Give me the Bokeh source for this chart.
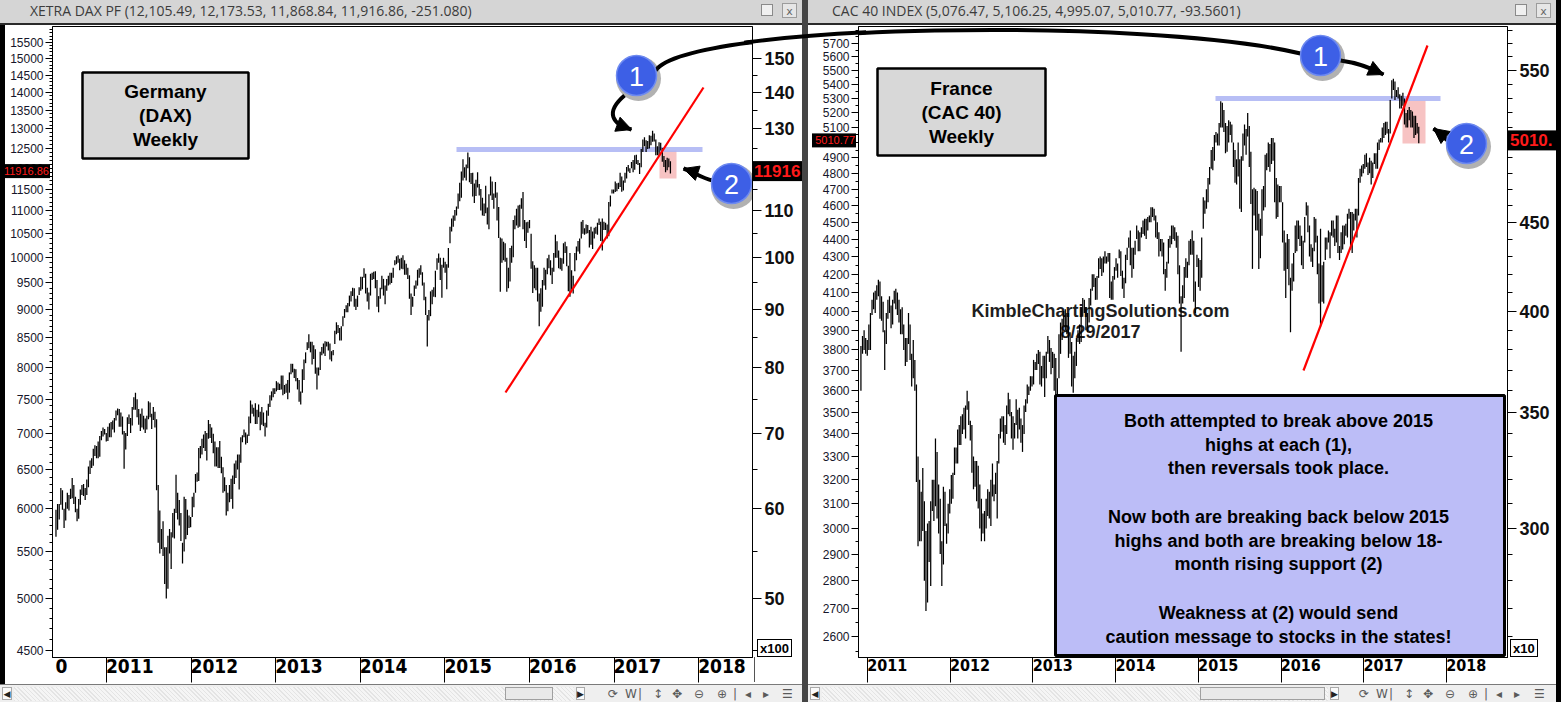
import numpy as np
import pandas as pd
from bokeh.plotting import figure
from bokeh.models import (ColumnDataSource, FixedTicker, NumeralTickFormatter,
                          CustomJSTickFormatter, LogAxis, Range1d, Arrow,
                          NormalHead, Div)
from bokeh.layouts import row, column
from bokeh.core.properties import value
from bokeh.embed import file_html
from bokeh.resources import INLINE

# ---------------------------------------------------------------- data
years = [2011, 2012, 2013, 2014, 2015, 2016, 2017, 2018]

dax_title = "XETRA DAX PF (12,105.49, 12,173.53, 11,868.84, 11,916.86, -251.080)"
cac_title = "CAC 40 INDEX (5,076.47, 5,106.25, 4,995.07, 5,010.77, -93.5601)"
dax_last = 11916.86
cac_last = 5010.77

# weekly bars (week ending Fridays)
dax_start = "2010-05-28"
dax_low = [
    5670, 5750, 5870, 6050, 5990, 5770, 5860, 6000, 5980, 6120, 6130, 6060, 5960, 5850,
    5880, 6050, 6170, 6160, 6110, 6170, 6270, 6440, 6520, 6550, 6680, 6650, 6650,
    6670, 6900, 6950, 6980, 6880,
    # 2011
    6890, 6940, 6940, 7050, 7010, 7180, 7260, 7090, 7090, 6980, 6510, 6770,
    6960, 7130, 7000, 7110, 7340, 7340, 7230, 7120, 7030, 7080, 7050, 7000, 7050,
    7200, 7230, 7060, 7190, 7080, 6230, 5600, 5480, 5530, 5450, 5150, 5000, 5100, 5480,
    5310, 5660, 5650, 5950, 5870, 5800, 5620, 5370, 5500, 5640, 5690, 5770, 5780,
    # 2012
    5900, 6020, 6200, 6340, 6350, 6650, 6700, 6790, 6750, 6620, 6920, 6930, 6860,
    6720, 6540, 6540, 6520, 6520, 6450, 6200, 6220, 5920, 5970, 6080, 6120, 6000,
    6310, 6390, 6500, 6240, 6590, 6870, 6940, 6840, 6860, 6960, 7140, 7280, 7240,
    7130, 7130, 7230, 7040, 7120, 7100, 6950, 7080, 7250, 7380, 7480, 7530, 7580,
    # 2013
    7620, 7640, 7640, 7650, 7560, 7580, 7600, 7500, 7600, 7890, 7920, 7830, 7780,
    7650, 7460, 7420, 7600, 7800, 8070, 8290, 8320, 8250, 8050, 8140, 7900, 7650,
    7870, 7960, 8200, 8230, 8190, 8350, 8280, 8130, 8100, 8200, 8390, 8560, 8580,
    8450, 8450, 8700, 8850, 8950, 8950, 9060, 9150, 9250, 9050, 8990, 9050, 9270,
    # 2014
    9350, 9380, 9600, 9300, 9150, 9000, 9260, 9560, 9580, 9400, 9050, 8950, 9200,
    9380, 9260, 9100, 9350, 9450, 9470, 9500, 9600, 9850, 9870, 9900, 9750, 9780,
    9770, 9660, 9660, 9580, 9200, 8900, 9050, 9250, 9390, 9450, 9600, 9660, 9450,
    9170, 8900, 8350, 8800, 8880, 9100, 9240, 9230, 9760, 9900, 9560, 9220, 9800,
    # 2015
    9700, 9380, 9800, 10300, 10550, 10650, 10780, 10900, 11050, 11220, 11300, 11700, 11770,
    11700, 12000, 11660, 11620, 11330, 11180, 11340, 11540, 11350, 11010, 10900, 10890, 10950,
    10700, 10600, 11350, 11250, 11050, 11300, 10790, 10410, 9330, 9900, 9950, 9920, 9330,
    9400, 9530, 9900, 10010, 10600, 10680, 10630, 10650, 11050, 10600, 10350, 10200, 10520,
    # 2016
    10620, 9780, 9310, 9400, 9360, 9150, 8700, 8960, 9050, 9450, 9370, 9670, 9790,
    9650, 9480, 9720, 10000, 10000, 9790, 9770, 9740, 9880, 10100, 9830, 9340, 9240,
    9370, 9300, 9730, 9950, 10130, 10080, 10400, 10500, 10480, 10500, 10510, 10210, 10270, 10180,
    10400, 10500, 10480, 10690, 10350, 10150, 10580, 10580, 10400, 10450, 11100, 11400, 11400,
    # 2017
    11430, 11450, 11500, 11550, 11440, 11470, 11650, 11750, 11920, 11880, 12000, 11900, 11960,
    12100, 12080, 11860, 12020, 12400, 12550, 12400, 12480, 12490, 12570, 12660, 12670, 12320,
    12320, 12300, 12440, 12160, 12030, 11900, 11950, 12020, 11870,
]
dax_high = [
    5990, 6060, 6060, 6260, 6230, 6000, 6080, 6200, 6170, 6250, 6390, 6300, 6150, 6000,
    6120, 6240, 6300, 6310, 6260, 6370, 6540, 6620, 6650, 6780, 6830, 6820, 6880,
    6960, 7030, 7080, 7060, 7000,
    # 2011
    7090, 7140, 7160, 7180, 7220, 7330, 7360, 7350, 7300, 7240, 7030, 7000,
    7230, 7270, 7220, 7380, 7530, 7600, 7500, 7350, 7280, 7360, 7250, 7210, 7250,
    7470, 7450, 7280, 7380, 7310, 7200, 6300, 5980, 5760, 5850, 5550, 5550, 5680, 5760,
    5720, 5950, 6000, 6430, 6200, 6110, 5950, 5600, 6150, 6120, 5990, 5920, 5900,
    # 2012
    6150, 6200, 6440, 6460, 6790, 6820, 6920, 6980, 7030, 7000, 7190, 7130, 7080,
    6990, 6880, 6800, 6800, 6890, 6670, 6530, 6400, 6300, 6200, 6300, 6380, 6420,
    6580, 6620, 6700, 6700, 6940, 6970, 7050, 7010, 6980, 7240, 7480, 7420, 7370,
    7440, 7340, 7420, 7310, 7380, 7300, 7150, 7330, 7430, 7560, 7620, 7670, 7670,
    # 2013
    7780, 7760, 7740, 7870, 7870, 7720, 7740, 7800, 7920, 8060, 8060, 7980, 7970,
    7830, 7800, 7620, 7970, 8130, 8250, 8420, 8560, 8430, 8430, 8370, 8300, 8000,
    8000, 8260, 8340, 8400, 8440, 8430, 8430, 8400, 8270, 8290, 8620, 8770, 8720,
    8670, 8700, 8880, 9010, 9080, 9120, 9260, 9340, 9410, 9400, 9200, 9260, 9420,
    # 2014
    9620, 9620, 9790, 9680, 9410, 9320, 9680, 9700, 9720, 9730, 9560, 9250, 9410,
    9640, 9580, 9450, 9580, 9640, 9700, 9700, 9800, 9950, 10030, 10050, 9980, 10000,
    10050, 9950, 9880, 9800, 9650, 9300, 9240, 9450, 9550, 9760, 9790, 9850, 9710,
    9510, 9240, 8900, 8990, 9340, 9370, 9420, 9740, 9990, 10090, 10000, 9860, 10000,
    # 2015
    9920, 9870, 10200, 10650, 10830, 10900, 11020, 11100, 11400, 11650, 11920, 12220, 12020,
    12090, 12390, 12270, 11880, 11890, 11630, 11720, 11900, 11620, 11500, 11300, 11170, 11580,
    11080, 11380, 11800, 11680, 11400, 11670, 11420, 11090, 10420, 10400, 10330, 10300, 10000,
    9800, 10200, 10250, 10800, 10900, 11050, 11120, 11140, 11290, 11430, 10800, 10750, 10760,
    # 2016
    10800, 10500, 9930, 9850, 9800, 9800, 9300, 9400, 9560, 9800, 9760, 9990, 10060,
    9950, 9800, 10100, 10480, 10340, 10150, 10000, 9990, 10300, 10330, 10240, 9840, 10100,
    9750, 9640, 10100, 10230, 10350, 10400, 10760, 10800, 10620, 10700, 10690, 10580, 10650, 10550,
    10630, 10650, 10740, 10830, 10760, 10830, 10760, 10740, 10700, 11200, 11350, 11490, 11490,
    # 2017
    11680, 11640, 11650, 11890, 11800, 11700, 11890, 12030, 12080, 12000, 12150, 12200, 12320,
    12330, 12200, 12130, 12480, 12720, 12780, 12700, 12680, 12830, 12820, 12950, 12880, 12720,
    12550, 12650, 12640, 12500, 12300, 12200, 12260, 12240, 12170,
]

cac_start = "2010-12-03"
cac_low = [
    3600, 3780, 3800, 3780, 3770,
    # 2011
    3800, 3800, 3980, 4010, 3990, 4060, 4080, 3960, 3950, 3890, 3700, 3830,
    3960, 3990, 3910, 3930, 4040, 4010, 3980, 3940, 3880, 3880, 3800, 3720, 3740,
    3830, 3750, 3620, 3660, 3600, 3190, 2930, 2950, 2950, 2990, 2800, 2690, 2720, 2870,
    2780, 3070, 3030, 3090, 3040, 2980, 2900, 2780, 2860, 3010, 2940, 2980, 3060,
    # 2012
    3100, 3120, 3220, 3270, 3270, 3350, 3350, 3400, 3420, 3380, 3510, 3440, 3370,
    3230, 3160, 3170, 3110, 3080, 3000, 2950, 2980, 2950, 3000, 3050, 3040, 3010,
    3130, 3110, 3140, 3040, 3270, 3380, 3410, 3360, 3350, 3400, 3490, 3480, 3380,
    3330, 3380, 3440, 3380, 3420, 3360, 3320, 3400, 3500, 3540, 3580, 3600, 3620,
    # 2013
    3630, 3700, 3700, 3730, 3630, 3620, 3660, 3570, 3660, 3780, 3740, 3680, 3710,
    3600, 3580, 3560, 3660, 3780, 3850, 3920, 3900, 3880, 3760, 3780, 3620, 3590,
    3660, 3720, 3840, 3830, 3840, 3970, 3990, 3900, 3890, 3940, 4030, 4110, 4130,
    4060, 4060, 4180, 4230, 4190, 4210, 4260, 4260, 4270, 4070, 4060, 4060, 4170,
    # 2014
    4220, 4180, 4290, 4190, 4120, 4070, 4150, 4280, 4350, 4250, 4180, 4230, 4310,
    4400, 4330, 4330, 4410, 4430, 4420, 4400, 4450, 4500, 4500, 4530, 4510, 4410,
    4400, 4300, 4330, 4300, 4200, 4110, 4180, 4260, 4350, 4370, 4400, 4390, 4350,
    4200, 4040, 3790, 4040, 4070, 4180, 4180, 4250, 4310, 4310, 4050, 3990, 4240,
    # 2015
    4130, 4110, 4180, 4460, 4550, 4580, 4620, 4730, 4830, 4820, 4880, 5000, 4980,
    4980, 5100, 5100, 5070, 4930, 4940, 5000, 5050, 5000, 4840, 4740, 4730, 4780,
    4580, 4560, 4880, 4980, 4920, 5040, 4840, 4610, 4230, 4540, 4450, 4450, 4230,
    4290, 4420, 4570, 4590, 4820, 4840, 4810, 4860, 4880, 4620, 4520, 4530, 4620,
    # 2016
    4620, 4380, 4220, 4070, 4230, 4140, 3890, 4110, 4160, 4320, 4330, 4400, 4360,
    4250, 4230, 4380, 4540, 4440, 4300, 4270, 4240, 4330, 4380, 4200, 4040, 3920,
    4050, 4040, 4280, 4340, 4380, 4290, 4420, 4410, 4360, 4380, 4320, 4280, 4320, 4340,
    4370, 4420, 4410, 4520, 4340, 4320, 4450, 4510, 4410, 4540, 4740, 4780, 4800,
    # 2017
    4830, 4840, 4790, 4800, 4730, 4770, 4860, 4830, 4830, 4950, 5000, 5000, 5030,
    5050, 5060, 5000, 5060, 5300, 5360, 5290, 5310, 5300, 5230, 5230, 5250, 5120,
    5100, 5100, 5150, 5100, 5100, 5030, 5050, 5060, 4995,
]
cac_high = [
    3820, 3870, 3900, 3860, 3850,
    # 2011
    3930, 3990, 4060, 4100, 4110, 4140, 4170, 4160, 4080, 4050, 3900, 3990,
    4060, 4080, 4030, 4060, 4110, 4120, 4100, 4060, 4010, 4020, 3930, 3860, 3860,
    3990, 3930, 3780, 3850, 3750, 3630, 3300, 3200, 3150, 3250, 3110, 2990, 3020, 3030,
    3110, 3200, 3200, 3380, 3320, 3180, 3120, 2950, 3170, 3150, 3020, 3100, 3160,
    # 2012
    3220, 3230, 3340, 3340, 3420, 3440, 3480, 3490, 3520, 3530, 3600, 3550, 3460,
    3440, 3300, 3280, 3280, 3260, 3180, 3120, 3060, 3070, 3120, 3160, 3150, 3200,
    3270, 3180, 3230, 3280, 3400, 3470, 3480, 3480, 3440, 3530, 3590, 3560, 3500,
    3480, 3450, 3560, 3510, 3520, 3470, 3440, 3530, 3560, 3630, 3620, 3670, 3670,
    # 2013
    3750, 3740, 3780, 3800, 3790, 3720, 3770, 3770, 3790, 3870, 3850, 3810, 3790,
    3780, 3760, 3660, 3880, 3940, 3960, 4000, 4010, 3990, 3990, 3890, 3840, 3770,
    3790, 3860, 3900, 3930, 4020, 4070, 4060, 4020, 3990, 4070, 4120, 4200, 4200,
    4180, 4190, 4290, 4300, 4290, 4300, 4330, 4300, 4320, 4320, 4160, 4190, 4240,
    # 2014
    4290, 4260, 4340, 4330, 4220, 4180, 4310, 4350, 4410, 4450, 4350, 4350, 4390,
    4480, 4450, 4440, 4470, 4510, 4520, 4520, 4530, 4540, 4590, 4590, 4580, 4540,
    4500, 4440, 4400, 4400, 4380, 4230, 4270, 4400, 4420, 4480, 4480, 4470, 4440,
    4420, 4250, 4080, 4140, 4240, 4290, 4270, 4390, 4400, 4450, 4390, 4160, 4310,
    # 2015
    4290, 4280, 4410, 4650, 4630, 4700, 4770, 4840, 4950, 4970, 5050, 5070, 5060,
    5130, 5280, 5270, 5220, 5130, 5110, 5150, 5140, 5120, 5000, 4950, 4890, 5000,
    4890, 4910, 5060, 5120, 5090, 5200, 5110, 4940, 4700, 4710, 4700, 4690, 4550,
    4520, 4700, 4720, 4920, 4930, 5000, 4990, 5030, 5030, 5000, 4770, 4730, 4720,
    # 2016
    4720, 4620, 4450, 4380, 4430, 4400, 4180, 4260, 4320, 4480, 4510, 4510, 4480,
    4420, 4390, 4530, 4620, 4600, 4480, 4370, 4350, 4530, 4520, 4420, 4260, 4460,
    4250, 4270, 4410, 4410, 4450, 4440, 4510, 4510, 4460, 4540, 4540, 4360, 4440, 4480,
    4480, 4490, 4550, 4580, 4560, 4560, 4550, 4580, 4580, 4770, 4830, 4850, 4860,
    # 2017
    4920, 4930, 4870, 4900, 4880, 4870, 4930, 4930, 5000, 5020, 5030, 5100, 5130,
    5140, 5140, 5090, 5290, 5430, 5440, 5420, 5360, 5380, 5330, 5320, 5340, 5300,
    5200, 5220, 5240, 5220, 5210, 5180, 5180, 5130, 5106,
]

dax_left_ticks = list(range(4500, 15501, 500))
dax_left_minor = list(range(4400, 15901, 100))
dax_right_ticks = list(range(5000, 15001, 1000))
dax_right_minor = list(range(4500, 15501, 500))
cac_left_ticks = list(range(2600, 5701, 100))
cac_left_minor = list(range(2550, 5851, 50))
cac_right_ticks = list(range(3000, 5501, 500))
cac_right_minor = list(range(2600, 5801, 100))

box_lines = ["Both attempted to break above 2015", "highs at each (1),",
             "then reversals took place.", "Now both are breaking back below 2015",
             "highs and both are breaking below 18-", "month rising support (2)",
             "Weakness at (2) would send", "caution message to stocks in the states!"]

# ---------------------------------------------------------------- page geometry (pixels)
TITLE_H, FRAME_TOP, FRAME_BOT, FIG_BOT_BORDER, SCROLL_H = 25, 26, 657, 27, 18
FIG_H = 1 + (FRAME_BOT - FRAME_TOP) + FIG_BOT_BORDER
BOTTOM_H = 708 - TITLE_H - FIG_H - SCROLL_H
YEAR_FONT = "DejaVu Sans Condensed"


# ---------------------------------------------------------------- helpers
def dax_x(px): return float(2011 + (px - 106) / 84.6)
def dax_y(py): return float(15000 * np.exp(-(py - 58) / 491.5))
def dax_py(v): return float(58 + 491.5 * np.log(15000 / v))
def cac_x(px): return float(2011 + (px - 867) / 82.7)
def cac_y(py): return float(5500 * np.exp(-(py - 70) / 755.6))
def cac_py(v): return float(70 + 755.6 * np.log(5500 / v))


ARC = [(655.0, 70.0), (690.0, 22.0), (1150.0, 17.0), (1300.0, 53.0)]


def decimal_years(start, n):
    d = pd.date_range(start, periods=n, freq="7D")
    days = np.where(d.is_leap_year, 366.0, 365.0)
    return np.asarray(d.year) + (np.asarray(d.dayofyear) - 1) / days


def make_fig(X, Y, lpx, rpx, mbl, mbr):
    p = figure(frame_width=int(rpx - lpx), frame_height=FRAME_BOT - FRAME_TOP,
               x_range=Range1d(X(lpx), X(rpx)), y_range=Range1d(Y(FRAME_BOT), Y(FRAME_TOP)),
               y_axis_type="log", output_backend="svg", toolbar_location=None,
               min_border_left=mbl, min_border_right=mbr, min_border_top=1,
               min_border_bottom=FIG_BOT_BORDER, background_fill_color="white",
               border_fill_color="white", outline_line_color="black", margin=0)
    p.xgrid.visible = False
    p.ygrid.visible = False
    return p


def style_axes(p, lt, lm, rt, rm, rdiv, xticks, yr_size):
    ya = p.yaxis[0]
    ya.ticker = FixedTicker(ticks=lt, minor_ticks=lm)
    ya.formatter = NumeralTickFormatter(format="0")
    ya.major_tick_out = 7
    ya.major_tick_in = 0
    ya.minor_tick_out = 3
    ya.minor_tick_in = 0
    ya.major_label_standoff = 2
    ya.major_label_text_font = "Liberation Sans"
    ya.major_label_text_font_size = "12px"
    ya.major_label_text_color = "#16162a"
    ya.axis_line_color = "black"

    ra = LogAxis(ticker=FixedTicker(ticks=rt, minor_ticks=rm),
                 formatter=CustomJSTickFormatter(code="return (tick / %d).toFixed(0);" % rdiv))
    ra.major_tick_out = 9
    ra.major_tick_in = 0
    ra.minor_tick_out = 5
    ra.minor_tick_in = 0
    ra.major_label_standoff = 3
    ra.major_label_text_font = "Liberation Sans"
    ra.major_label_text_font_style = "bold"
    ra.major_label_text_font_size = "18px"
    ra.major_label_text_color = "#111111"
    ra.axis_line_color = "black"
    p.add_layout(ra, "right")

    xa = p.xaxis[0]
    xa.ticker = FixedTicker(ticks=xticks, minor_ticks=years)
    xa.formatter = CustomJSTickFormatter(
        code="if (tick < 2011) { return '0'; } return Math.floor(tick).toFixed(0);")
    xa.major_tick_out = 0
    xa.major_tick_in = 0
    xa.minor_tick_out = 25
    xa.minor_tick_in = 0
    xa.minor_tick_line_color = "black"
    xa.major_label_standoff = -24
    xa.major_label_text_font = YEAR_FONT
    xa.major_label_text_font_style = "bold"
    xa.major_label_text_font_size = yr_size
    xa.major_label_text_color = "black"
    xa.axis_line_color = "black"


def add_bars(p, start, low, high):
    n = min(len(low), len(high))
    src = ColumnDataSource(dict(x=decimal_years(start, n), low=low[:n], high=high[:n]))
    p.segment(x0="x", y0="low", x1="x", y1="high", source=src,
              line_color="black", line_width=1.25)


def gray_box(p, X, Y, l, r, t, b, lines, ys):
    p.quad(left=[X(l)], right=[X(r)], top=[Y(t)], bottom=[Y(b)],
           fill_color="#d8d8d8", line_color="black", line_width=2.5)
    p.text(x=[X((l + r) / 2)] * len(lines), y=[Y(v) for v in ys], text=lines,
           text_align="center", text_baseline="middle", text_font=value("Liberation Sans"),
           text_font_style="bold", text_font_size="19px", text_color="black")


def badge(p, X, Y, cx, cy, label):
    p.scatter(x=[X(cx + 2)], y=[Y(cy + 3)], size=45, fill_color="#202020",
              fill_alpha=0.35, line_color=None)
    p.scatter(x=[X(cx)], y=[Y(cy)], size=40, fill_color="#3d5fe6",
              line_color="#6e8af0", line_width=1.5)
    p.text(x=[X(cx)], y=[Y(cy + 1)], text=[label], text_align="center",
           text_baseline="middle", text_font=value("Liberation Sans"),
           text_font_size="27px", text_color="white")


def curved_arrow(p, X, Y, p0, c0, c1, p3, head_from):
    p.bezier(x0=[X(p0[0])], y0=[Y(p0[1])], x1=[X(p3[0])], y1=[Y(p3[1])],
             cx0=[X(c0[0])], cy0=[Y(c0[1])], cx1=[X(c1[0])], cy1=[Y(c1[1])],
             line_color="black", line_width=4)
    p.add_layout(Arrow(end=NormalHead(size=15, fill_color="black", line_color="black"),
                       x_start=X(head_from[0]), y_start=Y(head_from[1]),
                       x_end=X(p3[0]), y_end=Y(p3[1]), line_width=4, line_color="black"))


def big_arc(p, X, Y):
    (x0, y0), (x1, y1), (x2, y2), (x3, y3) = ARC
    p.bezier(x0=[X(x0)], y0=[Y(y0)], x1=[X(x3)], y1=[Y(y3)],
             cx0=[X(x1)], cy0=[Y(y1)], cx1=[X(x2)], cy1=[Y(y2)],
             line_color="black", line_width=4)


def overlay_svg():
    """Marks that sit across the axis areas, in page pixels, drawn above the canvases."""
    (x0, y0), (x1, y1), (x2, y2), (x3, y3) = ARC
    d_y = dax_py(dax_last)
    c_y = cac_py(cac_last)
    parts = [
        '<svg width="1561" height="708" style="position:absolute;left:0px;top:0px;'
        'overflow:visible;pointer-events:none;z-index:50;" xmlns="http://www.w3.org/2000/svg">',
        '<defs><clipPath id="gap"><rect x="744" y="0" width="122" height="120"/></clipPath></defs>',
        f'<path d="M{x0},{y0} C{x1},{y1} {x2},{y2} {x3},{y3}" fill="none" stroke="black" '
        f'stroke-width="4" clip-path="url(#gap)"/>',
        # DAX price labels
        f'<rect x="5" y="{d_y - 7:.1f}" width="45" height="14" fill="black"/>',
        f'<text x="49" y="{d_y + 4:.1f}" text-anchor="end" font-family="Liberation Sans" '
        f'font-size="11" fill="#ff1a1a">11916.86</text>',
        f'<rect x="753" y="{d_y - 10:.1f}" width="49" height="20" fill="black"/>'
        f'<text x="754" y="{d_y + 6:.1f}" font-family="Liberation Sans" font-weight="bold" '
        f'font-size="17" fill="#ff1a1a">11916</text>',
        # CAC price labels
        f'<rect x="812" y="{c_y - 7:.1f}" width="44" height="14" fill="black"/>',
        f'<text x="855" y="{c_y + 4:.1f}" text-anchor="end" font-family="Liberation Sans" '
        f'font-size="11" fill="#ff1a1a">5010.77</text>',
        f'<rect x="1508" y="{c_y - 10:.1f}" width="48" height="20" fill="black"/>'
        f'<text x="1510" y="{c_y + 6:.1f}" font-family="Liberation Sans" font-weight="bold" '
        f'font-size="17" fill="#ff1a1a">5010.</text>',
        # multiplier boxes
        '<rect x="757.5" y="639.5" width="34" height="17" fill="white" stroke="black"/>',
        '<text x="760" y="653" font-family="Liberation Sans" font-weight="bold" font-size="13">x100</text>',
        '<rect x="1510.5" y="639.5" width="27" height="17" fill="white" stroke="black"/>',
        '<text x="1513" y="653" font-family="Liberation Sans" font-weight="bold" font-size="13">x10</text>',
        # right edge of the DAX time-axis box
        '<line x1="754.5" y1="657" x2="754.5" y2="682" stroke="#555" stroke-width="1"/>',
        '</svg>',
    ]
    return "".join(parts)


def title_div(text, width, left, overlay=""):
    html = (
        f'<div style="position:relative;width:{width}px;height:{TITLE_H}px;">'
        f'<div style="position:absolute;left:0;top:0;width:{width}px;height:{TITLE_H}px;background:#d5d5d5;'
        f'border-bottom:2px solid #2a2a2a;box-sizing:border-box;overflow:hidden;">'
        f'<span style="position:absolute;left:{left}px;top:1px;font-family:\'Open Sans\';'
        f'font-size:14px;color:#3c3c3c;white-space:nowrap;">{text}</span>'
        f'<span style="position:absolute;right:29px;top:4px;width:12px;height:12px;'
        f'border:1px solid #8a8a8a;background:#f0f0f0;"></span>'
        f'<span style="position:absolute;right:5px;top:3px;width:15px;height:15px;'
        f'border:1px solid #9c9c9c;background:#e6e6e6;font-family:\'DejaVu Sans\';'
        f'font-size:11px;line-height:15px;text-align:center;color:#666;">x</span></div>'
        + overlay + '</div>')
    return Div(text=html, width=width, height=TITLE_H, margin=0,
               styles={"overflow": "visible", "z-index": "50"})


def scroll_div(width, thumb_l, thumb_w, rarrow, icons):
    spans = []
    for x, s in icons:
        spans.append(f'<span style="position:absolute;left:{x}px;top:1px;font-family:\'DejaVu Sans\';'
                     f'font-size:12px;line-height:16px;color:#5a5a5a;">{s}</span>')
    html = (
        f'<div style="position:relative;width:{width}px;height:{SCROLL_H}px;background:#efefef;'
        f'border-top:1px solid #7a7a7a;box-sizing:border-box;overflow:hidden;">'
        f'<span style="position:absolute;left:2px;top:2px;width:10px;height:13px;border:1px solid #aaa;'
        f'background:#fafafa;font-size:9px;line-height:13px;text-align:center;color:#222;'
        f'font-family:\'DejaVu Sans\';">&#9664;</span>'
        f'<span style="position:absolute;left:14px;top:2px;width:{rarrow - 16}px;height:14px;'
        f'background:repeating-linear-gradient(45deg,#e4e4e4 0px,#e4e4e4 1px,#f5f5f5 1px,#f5f5f5 3px);"></span>'
        f'<span style="position:absolute;left:{thumb_l}px;top:2px;width:{thumb_w}px;height:13px;'
        f'border:1px solid #a0a0a0;background:#e9e9e9;"></span>'
        f'<span style="position:absolute;left:{rarrow}px;top:2px;width:9px;height:13px;border:1px solid #aaa;'
        f'background:#fafafa;font-size:9px;line-height:13px;text-align:center;color:#222;'
        f'font-family:\'DejaVu Sans\';">&#9654;</span>'
        + "".join(spans) + '</div>')
    return Div(text=html, width=width, height=SCROLL_H, margin=0)


def block(w, h, color):
    return Div(text=f'<div style="width:{w}px;height:{h}px;background:{color};"></div>',
               width=w, height=h, margin=0)


# ---------------------------------------------------------------- DAX panel
pd_ = make_fig(dax_x, dax_y, 52, 752, 47, 50)
style_axes(pd_, dax_left_ticks, dax_left_minor, dax_right_ticks, dax_right_minor,
           100, [dax_x(61)] + [y + 0.275 for y in years], "19px")
pd_.quad(left=[dax_x(659)], right=[dax_x(676)], top=[dax_y(150)], bottom=[dax_y(178)],
         fill_color="#f3a9a9", fill_alpha=0.7, line_color=None)
pd_.line(x=[dax_x(456), dax_x(702)], y=[dax_y(149), dax_y(149)], line_width=5,
         line_color="#aab3f3", line_alpha=0.85)
add_bars(pd_, dax_start, dax_low, dax_high)
pd_.line(x=[dax_x(505), dax_x(703)], y=[dax_y(392), dax_y(87)], line_width=2.2,
         line_color="#ff0000")
gray_box(pd_, dax_x, dax_y, 82, 248, 72, 158, ["Germany", "(DAX)", "Weekly"], [91, 115, 139])
curved_arrow(pd_, dax_x, dax_y, (624, 95), (604, 112), (612, 124), (631, 129), (623, 126))
curved_arrow(pd_, dax_x, dax_y, (712, 180), (702, 178), (694, 172), (683, 168), (692, 171))
big_arc(pd_, dax_x, dax_y)
badge(pd_, dax_x, dax_y, 636, 75, "1")
badge(pd_, dax_x, dax_y, 731, 183, "2")

# ---------------------------------------------------------------- CAC panel
pc = make_fig(cac_x, cac_y, 858, 1507, 50, 49)
style_axes(pc, cac_left_ticks, cac_left_minor, cac_right_ticks, cac_right_minor,
           10, [y + 0.24 for y in years], "16px")
pc.text(x=[cac_x(1100), cac_x(1100)], y=[cac_y(310), cac_y(331)],
        text=["KimbleChartingSolutions.com", "8/29/2017"], text_align="center",
        text_baseline="middle", text_font=value("Liberation Sans"), text_font_style="bold",
        text_font_size="18px", text_color="#1e1e1e")
pc.quad(left=[cac_x(1402)], right=[cac_x(1425)], top=[cac_y(100)], bottom=[cac_y(143)],
        fill_color="#f3a9a9", fill_alpha=0.7, line_color=None)
pc.line(x=[cac_x(1215), cac_x(1440)], y=[cac_y(98), cac_y(98)], line_width=5,
        line_color="#aab3f3", line_alpha=0.85)
add_bars(pc, cac_start, cac_low, cac_high)
pc.line(x=[cac_x(1303), cac_x(1427)], y=[cac_y(370), cac_y(45)], line_width=2.2,
        line_color="#ff0000")
gray_box(pc, cac_x, cac_y, 877, 1045, 68, 155, ["France", "(CAC 40)", "Weekly"], [88, 112, 136])
pc.quad(left=[cac_x(1055)], right=[cac_x(1504)], top=[cac_y(395)], bottom=[cac_y(655)],
        fill_color="#bcbdf7", line_color="black", line_width=3)
pc.text(x=[cac_x(1278)] * len(box_lines),
        y=[cac_y(v) for v in [420, 444, 467, 516, 540, 563, 612, 636]],
        text=box_lines, text_align="center", text_baseline="middle",
        text_font=value("Liberation Sans"), text_font_style="bold",
        text_font_size="18px", text_color="black")
big_arc(pc, cac_x, cac_y)
curved_arrow(pc, cac_x, cac_y, (1340, 60), (1355, 62), (1368, 66), (1383, 74), (1372, 69))
curved_arrow(pc, cac_x, cac_y, (1447, 140), (1443, 137), (1440, 133), (1433, 128), (1441, 134))
badge(pc, cac_x, cac_y, 1320, 55, "1")
badge(pc, cac_x, cac_y, 1466, 143, "2")

# ---------------------------------------------------------------- layout
dax_icons = [(608, "&#10227;"), (625, "W"), (638, "|"), (653, "&#8597;"), (672, "&#10021;"),
             (694, "&#8854;"), (717, "&#8853;"), (733, "|"), (745, "&#9666;"),
             (763, "&#9656;"), (782, "&#9776;")]
cac_icons = [(551, "&#10227;"), (568, "W"), (581, "|"), (596, "&#8597;"), (615, "&#10021;"),
             (637, "&#8854;"), (660, "&#8853;"), (676, "|"), (688, "&#9666;"),
             (706, "&#9656;"), (726, "&#9776;")]

dax_col = column(title_div(dax_title, 802, 30, overlay_svg()),
                 row(block(5, FIG_H, "black"), pd_, spacing=0, margin=0),
                 scroll_div(802, 505, 48, 576, dax_icons), spacing=0, margin=0)
cac_col = column(title_div(cac_title, 748, 24), pc,
                 scroll_div(748, 392, 125, 522, cac_icons), spacing=0, margin=0)
panel_h = TITLE_H + FIG_H + SCROLL_H
top_row = row(dax_col, block(6, panel_h, "#454545"), cac_col, block(5, panel_h, "black"),
              spacing=0, margin=0)
layout = column(top_row, block(1561, BOTTOM_H, "black"), spacing=0, margin=0)

open("out.html", "w").write(file_html(layout, INLINE))
